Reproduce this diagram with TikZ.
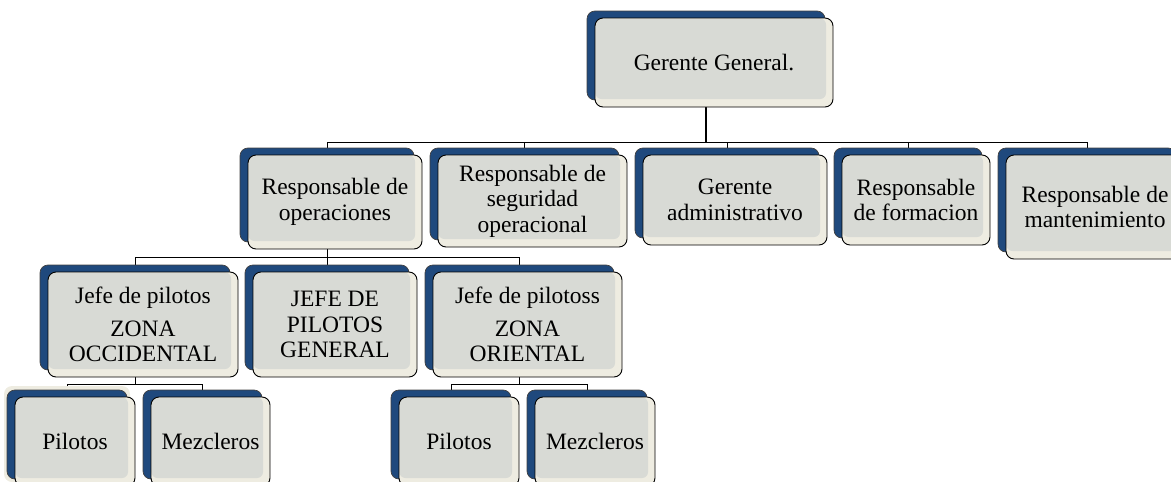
\documentclass[tikz,border=0pt]{standalone}
\usepackage{fontspec}
\setmainfont{Liberation Serif}
\usetikzlibrary{backgrounds}
\definecolor{bluebk}{HTML}{1F497D}
\definecolor{creamc}{HTML}{EEECE1}
\definecolor{grayin}{HTML}{D8DAD5}
\newcommand\orgbox[6]{%
  \node[backbox, minimum width=#4pt, minimum height=#5pt] (#1-b) at (#2-8,#3-7) {};
  \node[frontbox, minimum width=#4pt, minimum height=#5pt] (#1) at (#2,#3) {#6};}
\begin{document}
\begin{tikzpicture}[x=1pt,y=-1pt,
  backbox/.style={draw=black!75, fill=bluebk, rounded corners=8pt, line width=0.7pt, inner sep=0pt},
  frontbox/.style={draw=black, fill=creamc, rounded corners=8pt, line width=0.9pt, inner sep=0pt,
    align=center, font=\fontsize{23.5}{25.5}\selectfont,
    path picture={\fill[grayin, rounded corners=6pt]
      ([xshift=0.4pt,yshift=8pt]path picture bounding box.south west) rectangle
      ([xshift=-7pt,yshift=-0.4pt]path picture bounding box.north east);}},
  conn/.style={draw=black, line width=0.8pt},
]
\useasboundingbox (0,0) rectangle (1171,482);
\clip (0,0) rectangle (1171,482);
\coordinate (bar1) at (0,142);
\coordinate (bar2) at (0,257);
\coordinate (bar3) at (0,384);
% level 1
\orgbox{gg}{714}{62.5}{238}{89}{Gerente General.}
% level 2
\orgbox{ro}{335}{202}{174}{94}{Responsable de\\operaciones}
\orgbox{rs}{532.5}{201}{189}{92}{Responsable de\\seguridad\\operacional}
\orgbox{ga}{735}{200}{184}{90}{Gerente\\administrativo}
\orgbox{rf}{916}{200}{148}{90}{Responsable\\de formacion}
\orgbox{rm}{1095}{207}{178}{104}{Responsable de\\mantenimiento}
% level 3
\orgbox{jo}{143}{324.5}{190}{105}{Jefe de pilotos\\[7pt]ZONA\\OCCIDENTAL}
\orgbox{jg}{335}{324.5}{164}{105}{JEFE DE\\PILOTOS\\GENERAL}
\orgbox{jr}{527.5}{324.5}{189}{105}{Jefe de pilotoss\\[7pt]ZONA\\ORIENTAL}
% level 4
\orgbox{pa}{75}{441.5}{120}{89}{Pilotos}
\orgbox{ma}{210.5}{441.5}{119}{89}{Mezcleros}
\orgbox{pb}{459}{441.5}{120}{89}{Pilotos}
\orgbox{mb}{595}{441.5}{120}{89}{Mezcleros}
\begin{scope}[on background layer]
  \draw[conn, line width=2pt] (gg-b.center) -- (gg-b.center |- bar1);
  \foreach \c in {ro,rs,ga,rf,rm} \draw[conn] (gg-b.center |- bar1) -| (\c-b.north);
  \draw[conn] (ro-b.center) -- (ro-b.center |- bar2);
  \foreach \c in {jo,jg,jr} \draw[conn] (ro-b.center |- bar2) -| (\c-b.north);
  \draw[conn] (jo-b.center) -- (jo-b.center |- bar3);
  \foreach \c in {pa,ma} \draw[conn] (jo-b.center |- bar3) -| (\c-b.north);
  \draw[conn] (jr-b.center) -- (jr-b.center |- bar3);
  \foreach \c in {pb,mb} \draw[conn] (jr-b.center |- bar3) -| (\c-b.north);
  \fill[creamc, rounded corners=8pt] (4,386) rectangle (130,482);
\end{scope}
\end{tikzpicture}
\end{document}
